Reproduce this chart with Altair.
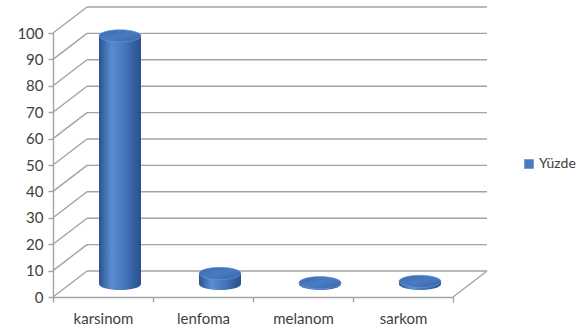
import altair as alt
import pandas as pd

# ---- data -------------------------------------------------------------
categories = ["karsinom", "lenfoma", "melanom", "sarkom"]
values = [94, 4, 0.5, 1]
series_name = "Yüzde"
y_ticks = list(range(0, 101, 10))

# ---- pseudo-3D geometry (in data units) -------------------------------
DEPTH_X = 0.34      # back wall shift to the right, in category widths
DEPTH_Y = 9.85      # back wall shift upwards, in value units
RADIUS = 0.21       # cylinder half width, in category widths
N = len(categories)

GRID = "#a3a3a3"
TEXT = "#404040"
FONT = "Lato"

# back-wall gridlines
grid_df = pd.DataFrame({
    "x1": [DEPTH_X] * len(y_ticks),
    "x2": [N + DEPTH_X] * len(y_ticks),
    "y": [v + DEPTH_Y for v in y_ticks],
})

# side-wall diagonals plus the right edge of the floor
diag_df = pd.DataFrame({
    "x1": [0.0] * len(y_ticks) + [float(N)],
    "y1": [float(v) for v in y_ticks] + [0.0],
    "x2": [DEPTH_X] * len(y_ticks) + [N + DEPTH_X],
    "y2": [v + DEPTH_Y for v in y_ticks] + [DEPTH_Y],
})

# cylinders stand half way into the depth
cyl_df = pd.DataFrame({
    "kategori": categories,
    "deger": values,
    "cx": [i + 0.5 + DEPTH_X / 2 for i in range(N)],
})
cyl_df["xl"] = cyl_df["cx"] - RADIUS
cyl_df["xr"] = cyl_df["cx"] + RADIUS
cyl_df["y0"] = DEPTH_Y / 2
cyl_df["y1"] = cyl_df["deger"] + DEPTH_Y / 2
cyl_df["seri"] = series_name

x_scale = alt.Scale(domain=[0, N], nice=False, zero=False)
y_scale = alt.Scale(domain=[0, 100], nice=False)

label_array = "[" + ",".join(f"'{c}'" for c in categories) + ",'']"
x_axis = alt.Axis(values=list(range(N + 1)), labelExpr=f"{label_array}[datum.value]",
                  labelOffset=50, labelAlign="center", labelPadding=9,
                  labelFontSize=15, labelFlush=False, labelOverlap=False)
y_axis = alt.Axis(values=y_ticks, labelPadding=5, labelFontSize=15)

# ellipse outline (unit box -1..1), flattened vertically
k = 0.29
c = 0.5523
ELLIPSE = (
    f"M-1,0 C-1,{-k*c:.4f} {-c:.4f},{-k} 0,{-k} "
    f"C{c:.4f},{-k} 1,{-k*c:.4f} 1,0 "
    f"C1,{k*c:.4f} {c:.4f},{k} 0,{k} "
    f"C{-c:.4f},{k} -1,{k*c:.4f} -1,0 Z"
)
ELL_SIZE = (2 * RADIUS * 100) ** 2

side_gradient = alt.LinearGradient(
    gradient="linear", x1=0, y1=0, x2=1, y2=0,
    stops=[
        alt.GradientStop(offset=0, color="#2a5490"),
        alt.GradientStop(offset=0.3, color="#5b8cd3"),
        alt.GradientStop(offset=0.6, color="#4677bd"),
        alt.GradientStop(offset=1, color="#28508c"),
    ],
)
top_gradient = alt.LinearGradient(
    gradient="linear", x1=0, y1=0, x2=1, y2=1,
    stops=[
        alt.GradientStop(offset=0, color="#3a68ad"),
        alt.GradientStop(offset=0.5, color="#4a7bc2"),
        alt.GradientStop(offset=1, color="#3764a6"),
    ],
)


def xq(field):
    return alt.X(field, type="quantitative", scale=x_scale, title=None, axis=x_axis)


def yq(field):
    return alt.Y(field, type="quantitative", scale=y_scale, title=None, axis=y_axis)


# ---- layers -------------------------------------------------------------
frame = alt.Chart(grid_df).mark_rule(color=GRID, strokeWidth=1.4).encode(
    x=xq("x1"), x2="x2", y=yq("y"),
)

diagonals = alt.Chart(diag_df).mark_rule(color=GRID, strokeWidth=1.4).encode(
    x=xq("x1"), x2="x2", y=yq("y1"), y2="y2",
)

legend_key = alt.Chart(cyl_df.head(1)).mark_square(size=100, opacity=1).encode(
    x=xq("cx"),
    y=yq("y0"),
    color=alt.Color("seri:N", scale=alt.Scale(range=["#4a7bc6"]),
                    legend=alt.Legend(title=None, orient="none", legendX=469, legendY=124,
                                      symbolType="square", symbolSize=90, labelOffset=3,
                                      labelFont=FONT, labelFontSize=14, labelColor=TEXT)),
)

bottom = alt.Chart(cyl_df).mark_point(
    shape=ELLIPSE, size=ELL_SIZE, filled=True, opacity=1, fill=side_gradient, strokeWidth=0
).encode(x=xq("cx"), y=yq("y0"))

side = alt.Chart(cyl_df).mark_rect(fill=side_gradient, strokeWidth=0).encode(
    x=xq("xl"), x2="xr", y=yq("y0"), y2="y1",
)

top = alt.Chart(cyl_df).mark_point(
    shape=ELLIPSE, size=ELL_SIZE, filled=True, opacity=1, fill=top_gradient,
    stroke="#6e98d6", strokeWidth=0.6
).encode(x=xq("cx"), y=yq("y1"))

chart = (
    alt.layer(frame, diagonals, legend_key, bottom, side, top)
    .properties(
        width=400, height=264,
        autosize=alt.AutoSizeParams(type="none"),
        padding={"left": 53, "top": 33, "right": 133, "bottom": 34},
        background="white",
    )
    .configure_view(strokeWidth=0)
    .configure_axis(
        grid=False,
        domainColor=GRID, domainWidth=1.4,
        tickColor=GRID, tickWidth=1.4, tickSize=5,
        labelFont=FONT, labelColor=TEXT,
    )
)

chart.save("out.html", embed_options={"renderer": "svg", "actions": False})
